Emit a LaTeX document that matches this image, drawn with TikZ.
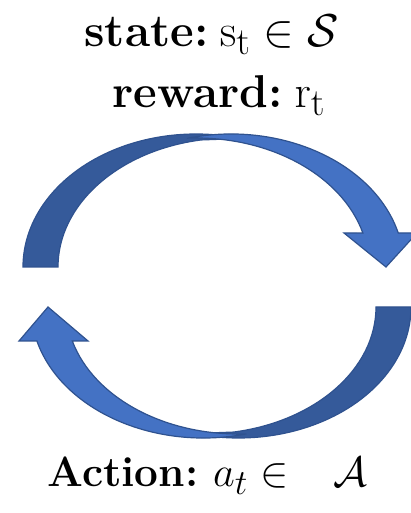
\documentclass[tikz,border=0pt]{standalone}
\usetikzlibrary{calc}
\definecolor{lightblue}{RGB}{68,114,196}
\definecolor{darkblue}{RGB}{53,90,154}
\definecolor{edgeblue}{RGB}{47,82,143}
\begin{document}
\begin{tikzpicture}[x=1pt,y=1pt,
  facelight/.style={fill=lightblue,draw=edgeblue,line width=1.2pt,line join=miter},
  facedark/.style={fill=darkblue,draw=edgeblue,line width=1.2pt},
  toplabel/.style={anchor=base,inner sep=0pt,font=\Huge\bfseries,scale=1.85},
  botlabel/.style={anchor=base,inner sep=0pt,font=\Huge\bfseries,scale=1.7}]
\useasboundingbox (0,0) rectangle (411,513);

% ---------- top curved arrow ----------
\path[facedark] (23,246) arc[start angle=180, end angle=75, x radius=173, y radius=133]
  -- ($(231,246)+(100:173 and 129)$) arc[start angle=100, end angle=180, x radius=173, y radius=129]
  -- cycle;
\path[facelight] ($(231,246)+(104.4:173 and 133)$)
  arc[start angle=104.4, end angle=14.81, x radius=173, y radius=133]
  -- (417,280) -- (386,246) -- (344,280)
  -- ($(196,246)+(15.28:173 and 129)$)
  arc[start angle=15.28, end angle=92.65, x radius=173, y radius=129]
  -- cycle;

% ---------- bottom curved arrow ----------
\path[facedark] (411,206) arc[start angle=0, end angle=-105, x radius=172.5, y radius=131]
  -- ($(203.5,206)+(-80:172.5 and 127)$) arc[start angle=-80, end angle=0, x radius=172.5, y radius=127]
  -- cycle;
\path[facelight] ($(203.5,206)+(-75.6:172.5 and 131)$)
  arc[start angle=-75.6, end angle=-164.96, x radius=172.5, y radius=131]
  -- (19,172) -- (48,206) -- (88,172)
  -- ($(238.5,206)+(-164.47:172.5 and 127)$)
  arc[start angle=-164.47, end angle=-87.3, x radius=172.5, y radius=127]
  -- cycle;

% ---------- labels ----------
\node[toplabel] (state) at (211.5,466) {state:\hspace{0.25em}$\mathrm{s}_{\mathrm{t}} \in \mathcal{S}$};
\node[toplabel] (reward) at (219,405) {reward:\hspace{0.25em}$\mathrm{r}_{\mathrm{t}}$};
\node[botlabel] (action) at (207.5,26) {Action:\hspace{0.35em}$a_t \in\hspace{0.8em}\mathcal{A}$};
\end{tikzpicture}
\end{document}
